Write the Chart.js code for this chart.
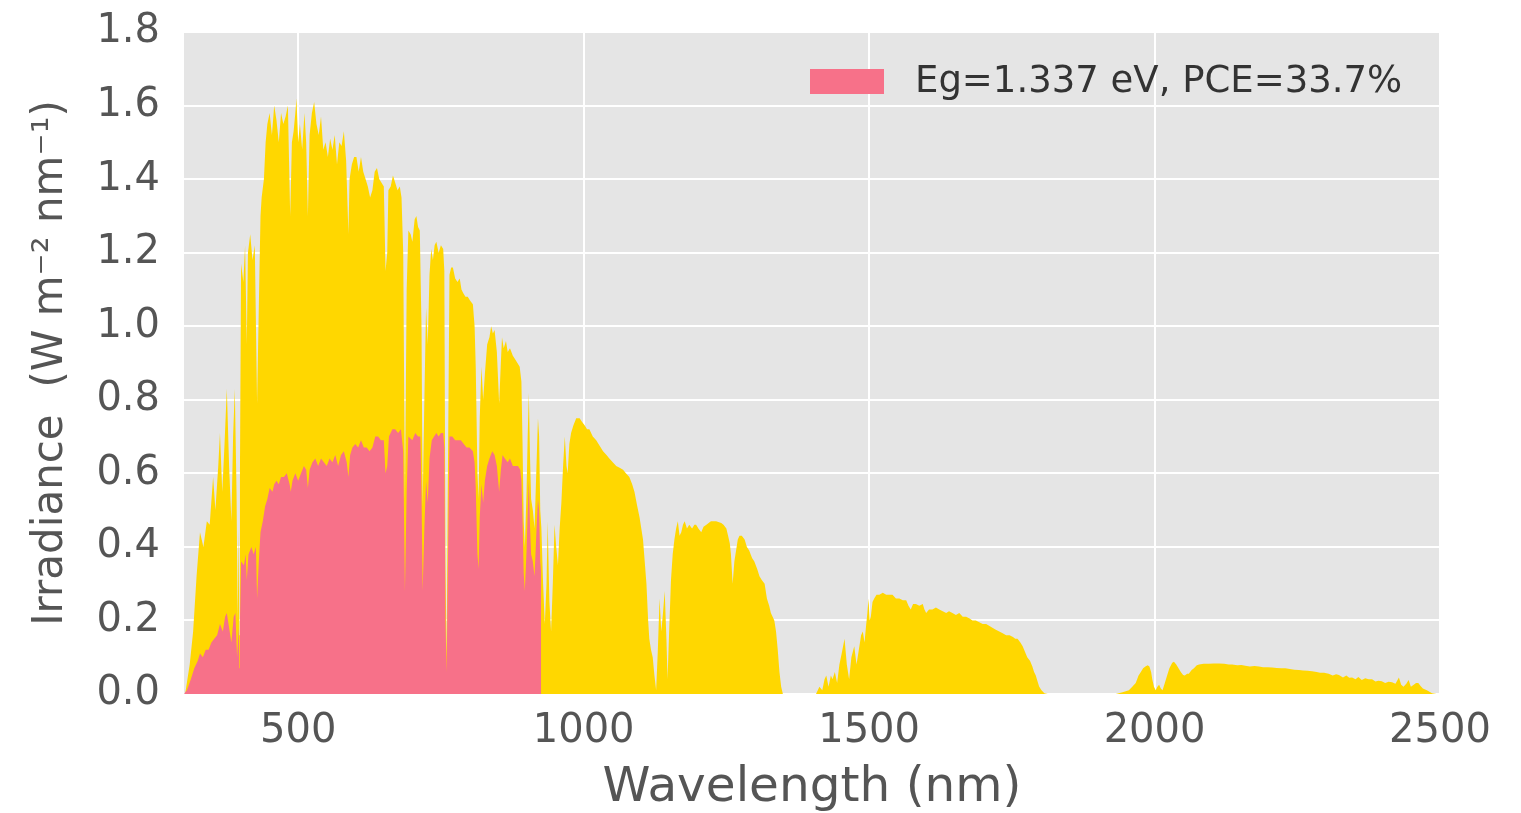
<!DOCTYPE html>
<html>
<head>
<meta charset="utf-8">
<script src="https://cdn.jsdelivr.net/npm/chart.js@4.4.1/dist/chart.umd.min.js"></script>
<style>
  html, body { margin: 0; padding: 0; background: #ffffff; }
  #wrap { width: 1521px; height: 813px; }
</style>
</head>
<body>
<div id="wrap"><canvas id="c" width="1521" height="813"></canvas></div>
<script>
// ---- data ----
const totalWavelength = [300,302,310,316,322,328,334,340,345,351,355,360,363,367,371,375,379,383,386,389,392,394,396,397,398,400,404,407,410,412,416,420,424,428,431,434,436,440,443,446,450,454,458,462,466,470,474,478,482,486,489,492,495,497,500,503,507,511,514,517,520,524,528,532,536,540,544,548,552,556,560,564,568,572,576,580,584,588,590,594,598,602,606,610,614,618,622,626,630,634,638,642,646,650,653,656,658,662,666,670,674,678,681,684,687,690,693,697,700,704,707,710,713,716,718,721,724,727,730,733,736,739,742,746,750,754,756,758,760,762,765,768,771,775,779,783,786,789,793,797,801,806,809,811,814,816,818,821,824,827,831,835,838,841,844,848,852,855,857,860,864,867,871,876,880,884,888,891,893,895,897,900,902,904,906,908,911,914,917,920,922,924,926,929,932,935,937,940,943,946,949,952,955,958,961,964,967,970,972,975,978,982,987,990,993,997,1002,1006,1010,1016,1022,1028,1034,1040,1045,1051,1057,1063,1069,1074,1080,1085,1089,1094,1098,1101,1104,1107,1110,1113,1115,1118,1121,1124,1127,1130,1133,1136,1139,1142,1145,1147,1150,1153,1156,1159,1162,1165,1168,1171,1174,1177,1181,1185,1190,1194,1197,1201,1206,1210,1215,1219,1223,1228,1232,1236,1241,1245,1250,1253,1256,1258,1261,1264,1267,1270,1273,1277,1282,1286,1290,1295,1299,1304,1308,1312,1317,1321,1325,1328,1331,1334,1337,1340,1343,1346,1349,1400,1407,1413,1418,1422,1425,1429,1433,1436,1440,1444,1448,1452,1457,1461,1465,1469,1474,1478,1483,1486,1489,1492,1495,1497,1499,1501,1503,1506,1509,1513,1518,1524,1530,1536,1541,1547,1553,1559,1565,1569,1573,1577,1582,1588,1594,1597,1600,1605,1611,1617,1623,1629,1635,1640,1646,1652,1658,1664,1670,1676,1681,1687,1693,1699,1705,1711,1716,1722,1728,1734,1740,1746,1752,1756,1760,1765,1769,1773,1777,1782,1786,1789,1792,1795,1798,1802,1807,1813,1932,1944,1955,1961,1967,1972,1976,1980,1984,1988,1991,1994,1996,1999,2002,2005,2008,2011,2014,2018,2022,2026,2031,2034,2038,2042,2046,2050,2053,2057,2060,2065,2069,2074,2078,2086,2095,2104,2113,2122,2130,2136,2145,2152,2159,2167,2175,2183,2190,2198,2206,2214,2222,2229,2237,2245,2253,2260,2268,2276,2284,2290,2297,2305,2312,2318,2323,2330,2336,2341,2346,2352,2357,2363,2369,2375,2381,2387,2392,2398,2404,2410,2416,2422,2428,2432,2436,2441,2445,2449,2454,2458,2462,2466,2470,2477,2486,2494,2500];
const totalIrradiance = [0,0.0,0.08,0.17,0.32,0.44,0.40,0.47,0.46,0.59,0.50,0.62,0.71,0.55,0.68,0.83,0.62,0.47,0.70,0.83,0.55,0.20,0.45,0.16,0.60,1.17,1.12,1.22,0.95,1.20,1.25,1.18,1.22,0.79,1.05,1.30,1.35,1.40,1.50,1.55,1.58,1.52,1.60,1.56,1.50,1.58,1.55,1.57,1.60,1.30,1.50,1.53,1.58,1.62,1.50,1.55,1.48,1.58,1.50,1.30,1.52,1.58,1.61,1.55,1.52,1.57,1.48,1.50,1.46,1.51,1.48,1.52,1.44,1.50,1.49,1.53,1.45,1.25,1.40,1.44,1.46,1.46,1.42,1.46,1.42,1.40,1.38,1.35,1.37,1.42,1.43,1.40,1.39,1.38,1.15,1.20,1.37,1.38,1.41,1.39,1.37,1.38,1.35,1.20,0.53,1.10,1.26,1.25,1.23,1.29,1.30,1.27,1.26,1.00,0.51,0.80,1.05,0.95,1.14,1.21,1.18,1.22,1.23,1.20,1.22,1.21,1.15,0.35,0.10,0.55,1.14,1.16,1.16,1.13,1.12,1.13,1.10,1.09,1.08,1.08,1.07,1.06,1.00,0.89,0.60,0.53,0.75,0.89,0.80,0.87,0.95,0.97,1.00,0.98,0.99,0.93,0.79,0.90,0.97,0.94,0.96,0.93,0.94,0.92,0.91,0.90,0.89,0.85,0.68,0.47,0.40,0.55,0.70,0.82,0.65,0.53,0.50,0.45,0.60,0.75,0.70,0.50,0.45,0.30,0.19,0.30,0.47,0.25,0.17,0.30,0.46,0.40,0.35,0.45,0.52,0.62,0.70,0.62,0.60,0.68,0.71,0.73,0.75,0.75,0.75,0.74,0.73,0.72,0.72,0.70,0.69,0.675,0.66,0.65,0.64,0.63,0.62,0.615,0.61,0.60,0.59,0.57,0.55,0.51,0.48,0.45,0.42,0.36,0.30,0.20,0.15,0.12,0.10,0.05,0.01,0.12,0.26,0.17,0.22,0.28,0.15,0.04,0.18,0.31,0.38,0.42,0.45,0.47,0.43,0.44,0.46,0.47,0.45,0.46,0.45,0.46,0.46,0.45,0.44,0.455,0.46,0.465,0.47,0.47,0.47,0.468,0.465,0.46,0.45,0.43,0.41,0.38,0.30,0.36,0.39,0.42,0.43,0.43,0.42,0.40,0.39,0.37,0.36,0.34,0.32,0.31,0.30,0.26,0.24,0.22,0.21,0.20,0.17,0.12,0.06,0.02,0,0,0,0.02,0.01,0.04,0.05,0.02,0.05,0.04,0.06,0.03,0.08,0.11,0.15,0.08,0.04,0.10,0.13,0.08,0.13,0.16,0.17,0.14,0.19,0.22,0.26,0.20,0.21,0.25,0.26,0.27,0.27,0.275,0.27,0.27,0.27,0.26,0.26,0.255,0.255,0.24,0.23,0.245,0.245,0.24,0.245,0.23,0.22,0.23,0.23,0.235,0.23,0.225,0.22,0.225,0.22,0.215,0.22,0.21,0.21,0.205,0.20,0.20,0.195,0.19,0.19,0.185,0.18,0.175,0.17,0.165,0.16,0.16,0.155,0.15,0.15,0.14,0.13,0.115,0.10,0.09,0.075,0.06,0.05,0.035,0.02,0.01,0.002,0,0,0.005,0.01,0.02,0.03,0.05,0.06,0.07,0.075,0.078,0.075,0.06,0.04,0.02,0.01,0.02,0.025,0.015,0.01,0.03,0.05,0.07,0.085,0.088,0.08,0.07,0.06,0.052,0.05,0.055,0.055,0.065,0.07,0.078,0.08,0.082,0.082,0.083,0.083,0.082,0.08,0.08,0.078,0.079,0.077,0.075,0.076,0.075,0.073,0.073,0.072,0.071,0.07,0.07,0.068,0.066,0.065,0.064,0.063,0.062,0.06,0.058,0.058,0.055,0.05,0.054,0.052,0.045,0.05,0.044,0.045,0.04,0.046,0.038,0.043,0.04,0.04,0.034,0.036,0.035,0.03,0.033,0.032,0.028,0.045,0.025,0.02,0.028,0.038,0.02,0.025,0.03,0.03,0.022,0.015,0.01,0.002,0,0];

const usedWavelength = [300,305,312,318,324,328,333,338,343,348,353,358,363,368,372,375,379,383,387,390,393,396,397,398,400,405,408,410,413,418,422,426,428,431,434,438,442,446,450,455,458,462,466,470,475,480,485,487,490,495,500,505,510,514,517,520,525,530,535,540,545,550,555,560,565,570,575,580,585,588,591,595,600,605,610,615,620,625,630,635,640,645,650,653,656,659,665,670,675,680,684,687,690,693,700,705,710,714,716,718,721,724,727,730,734,738,742,746,750,754,756,758,760,762,765,770,775,780,785,790,795,800,806,809,811,814,816,818,821,824,827,831,835,840,844,848,852,855,858,862,867,871,876,880,885,889,891,893,895,897,900,902,904,906,908,911,914,917,920,922,924,925.5,925.6];
const usedIrradiance = [0,0.01,0.04,0.07,0.09,0.11,0.10,0.12,0.12,0.14,0.15,0.16,0.19,0.17,0.21,0.22,0.18,0.14,0.21,0.22,0.10,0.18,0.07,0.20,0.36,0.35,0.38,0.31,0.38,0.40,0.38,0.40,0.26,0.36,0.44,0.47,0.51,0.53,0.56,0.55,0.57,0.58,0.57,0.59,0.59,0.60,0.57,0.55,0.58,0.60,0.58,0.60,0.62,0.61,0.56,0.61,0.63,0.64,0.62,0.64,0.63,0.62,0.64,0.63,0.65,0.62,0.65,0.66,0.63,0.59,0.65,0.67,0.68,0.67,0.69,0.67,0.67,0.66,0.67,0.70,0.70,0.69,0.69,0.60,0.62,0.70,0.72,0.72,0.71,0.72,0.66,0.28,0.55,0.70,0.69,0.71,0.70,0.70,0.55,0.28,0.45,0.58,0.52,0.64,0.69,0.70,0.71,0.70,0.71,0.71,0.67,0.20,0.06,0.32,0.70,0.70,0.69,0.69,0.69,0.68,0.67,0.67,0.66,0.63,0.56,0.38,0.34,0.48,0.57,0.52,0.58,0.62,0.64,0.66,0.65,0.62,0.55,0.61,0.65,0.64,0.63,0.64,0.62,0.62,0.62,0.61,0.58,0.47,0.33,0.28,0.39,0.49,0.58,0.46,0.38,0.36,0.32,0.43,0.53,0.50,0.36,0.33,0];

const xTickValues = [500, 1000, 1500, 2000, 2500];
const yTickValues = [0, 0.2, 0.4, 0.6, 0.8, 1.0, 1.2, 1.4, 1.6, 1.8];
const legendLabel = 'Eg=1.337 eV, PCE=33.7%';
const xTitle = 'Wavelength (nm)';
const yTitle = 'Irradiance  (W m\u207B\u00B2 nm\u207B\u00B9)';

// ---- build chart ----
const toPoints = (xs, ys) => xs.map((x, i) => ({x: x, y: ys[i]}));
const RED = '#f77189';
const GOLD = '#ffd700';
const FONT = "'DejaVu Sans', sans-serif";

const bgPlugin = {
  id: 'plotBg',
  beforeDraw(chart) {
    const {ctx, chartArea: a} = chart;
    ctx.save();
    ctx.fillStyle = '#e5e5e5';
    ctx.fillRect(a.left, a.top, a.right - a.left, a.bottom - a.top);
    ctx.restore();
  }
};

const insideLegend = {
  id: 'insideLegend',
  afterDatasetsDraw(chart) {
    const {ctx, chartArea: a} = chart;
    const ds = chart.data.datasets[0];
    ctx.save();
    const boxW = 74, boxH = 25;
    const bx = a.right - 630, by = a.top + 37;
    ctx.fillStyle = ds.backgroundColor;
    ctx.fillRect(bx, by, boxW, boxH);
    ctx.font = "37px " + FONT;
    ctx.fillStyle = '#333333';
    ctx.textBaseline = 'middle';
    ctx.textAlign = 'left';
    ctx.fillText(ds.label, bx + boxW + 31, by + boxH / 2 + 1);
    ctx.restore();
  }
};

new Chart(document.getElementById('c'), {
  type: 'line',
  data: {
    datasets: [
      {
        label: legendLabel,
        data: toPoints(usedWavelength, usedIrradiance),
        backgroundColor: RED,
        borderColor: RED,
        borderWidth: 0,
        fill: 'origin',
        pointRadius: 0,
        tension: 0,
        order: 0
      },
      {
        label: 'AM1.5G',
        data: toPoints(totalWavelength, totalIrradiance),
        backgroundColor: GOLD,
        borderColor: GOLD,
        borderWidth: 0,
        fill: 'origin',
        pointRadius: 0,
        tension: 0,
        order: 1
      }
    ]
  },
  options: {
    responsive: false,
    animation: false,
    parsing: false,
    normalized: true,
    layout: { padding: { left: 0, top: 32, right: 81, bottom: 0 } },
    plugins: {
      legend: { display: false },
      tooltip: { enabled: false }
    },
    scales: {
      x: {
        type: 'linear',
        min: 300,
        max: 2500,
        afterBuildTicks: (s) => { s.ticks = xTickValues.map(v => ({value: v})); },
        afterFit: (s) => { s.height = 119; s.paddingLeft = 0; s.paddingRight = 0; },
        border: { display: false },
        grid: { color: '#ffffff', lineWidth: 2, drawTicks: false },
        ticks: {
          font: { family: FONT, size: 40 },
          color: '#555555',
          padding: 14,
          maxRotation: 0,
          autoSkip: false,
          callback: (v) => String(v)
        },
        title: {
          display: true,
          text: xTitle,
          font: { family: FONT, size: 48.5, lineHeight: 1.0 },
          color: '#555555',
          padding: { top: 0, bottom: 0 }
        }
      },
      y: {
        type: 'linear',
        min: 0,
        max: 1.8,
        afterBuildTicks: (s) => { s.ticks = yTickValues.map(v => ({value: v})); },
        afterFit: (s) => { s.width = 184; s.paddingTop = 0; s.paddingBottom = 0; },
        border: { display: false },
        grid: { color: '#ffffff', lineWidth: 2, drawTicks: false },
        ticks: {
          font: { family: FONT, size: 40 },
          color: '#555555',
          padding: 24,
          autoSkip: false,
          callback: (v) => Number(v).toFixed(1)
        },
        title: {
          display: true,
          text: yTitle,
          font: { family: FONT, size: 42, lineHeight: 1.0 },
          color: '#555555',
          padding: { top: 30, bottom: 0 }
        }
      }
    }
  },
  plugins: [bgPlugin, insideLegend]
});
</script>
</body>
</html>
